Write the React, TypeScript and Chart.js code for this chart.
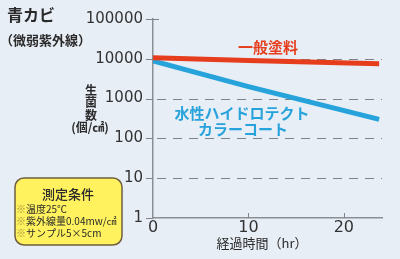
import React, { useEffect, useRef } from "react";
import { Chart, registerables } from "chart.js";

Chart.register(...registerables);

const hours = [0, 10, 23.7];
const generalPaint = [10600, 9000, 7500];
const hydrotect = [8900, 2000, 300];
const yTicks = [1, 10, 100, 1000, 10000, 100000];
const xTicks = [0, 10, 20];

const BG = "#e8eef6";
const RED = "#e63e1c";
const BLUE = "#27a3db";
const JP = '"Noto Sans CJK JP", "Noto Sans", sans-serif';

const textPlugin = {
  id: "texts",
  beforeDraw(chart: any) {
    const { ctx } = chart;
    ctx.save();
    ctx.fillStyle = BG;
    ctx.fillRect(0, 0, chart.width, chart.height);
    ctx.restore();
  },
  beforeDatasetsDraw(chart: any) {
    const { ctx } = chart;
    const x = chart.scales.x;
    const y = chart.scales.y;
    ctx.save();
    ctx.strokeStyle = "#7f8389";
    ctx.lineWidth = 1;
    // y grid lines (dashed) and tick marks
    yTicks.forEach((v) => {
      const py = Math.round(y.getPixelForValue(v)) + 0.5;
      ctx.setLineDash([]);
      ctx.beginPath();
      ctx.moveTo(x.left - 7, py);
      ctx.lineTo(x.left + (v === 100000 ? 6 : 0), py);
      ctx.stroke();
      if (v !== 1 && v !== 100000) {
        ctx.setLineDash([9, 7]);
        ctx.beginPath();
        ctx.moveTo(x.left + 4, py);
        ctx.lineTo(x.right, py);
        ctx.stroke();
      }
    });
    ctx.setLineDash([]);
    // x tick marks pointing up
    [10, 20].forEach((v) => {
      const px = Math.round(x.getPixelForValue(v)) + 0.5;
      ctx.beginPath();
      ctx.moveTo(px, y.bottom);
      ctx.lineTo(px, y.bottom - 5);
      ctx.stroke();
    });
    ctx.restore();
  },
  afterDraw(chart: any) {
    const { ctx } = chart;
    ctx.save();
    // title
    ctx.fillStyle = "#2a2a2a";
    ctx.textBaseline = "middle";
    ctx.textAlign = "left";
    ctx.font = `bold 16px ${JP}`;
    ctx.fillText("青カビ", 7, 15);
    ctx.font = `bold 13px ${JP}`;
    ctx.fillText("（微弱紫外線）", 0, 40);
    // y title
    ctx.textAlign = "center";
    ctx.font = `bold 12px ${JP}`;
    ["生", "菌", "数"].forEach((c, i) => ctx.fillText(c, 91, 90 + i * 12.5));
    ctx.fillText("(個/㎠)", 90, 127);
    // x title
    ctx.font = `13px ${JP}`;
    ctx.fillText("経過時間（hr）", 262, 243);
    // series labels
    ctx.font = `bold 15px ${JP}`;
    ctx.fillStyle = RED;
    ctx.fillText("一般塗料", 268, 47);
    ctx.fillStyle = BLUE;
    ctx.fillText("水性ハイドロテクト", 242, 113);
    ctx.fillText("カラーコート", 243, 129);
    // yellow box
    const bx = 15, by = 178, bw = 107, bh = 67, r = 9;
    ctx.beginPath();
    ctx.roundRect(bx, by, bw, bh, r);
    ctx.fillStyle = "#fff25e";
    ctx.fill();
    ctx.strokeStyle = "#6e5d3e";
    ctx.lineWidth = 1.5;
    ctx.stroke();
    ctx.fillStyle = "#2a2a2a";
    ctx.font = `500 13px ${JP}`;
    ctx.fillText("測定条件", 68, 194);
    ctx.textAlign = "left";
    ctx.font = `10px ${JP}`;
    const lines = ["温度25℃", "紫外線量0.04mw/㎠", "サンプル5×5cm"];
    lines.forEach((l, i) => {
      const ly = 209 + i * 12;
      ctx.fillStyle = "#9a8a40";
      ctx.fillText("※", 16, ly);
      ctx.fillStyle = "#2a2a2a";
      ctx.fillText(l, 26, ly);
    });
    ctx.restore();
  },
};

export default function App() {
  const ref = useRef<HTMLCanvasElement>(null);
  useEffect(() => {
    document.body.style.margin = "0";
    const chart = new Chart(ref.current!, {
      type: "line",
      data: {
        datasets: [
          {
            label: "一般塗料",
            data: hours.map((h, i) => ({ x: h, y: generalPaint[i] })),
            borderColor: RED,
            borderWidth: 5,
            pointRadius: 0,
            tension: 0,
          },
          {
            label: "水性ハイドロテクトカラーコート",
            data: hours.map((h, i) => ({ x: h, y: hydrotect[i] })),
            borderColor: BLUE,
            borderWidth: 5,
            pointRadius: 0,
            tension: 0,
          },
        ],
      },
      options: {
        animation: false,
        responsive: false,
        layout: { padding: { left: 0, top: 17, right: 18, bottom: 0 } },
        plugins: { legend: { display: false }, tooltip: { enabled: false } },
        scales: {
          x: {
            type: "linear",
            min: 0,
            max: 24,
            afterBuildTicks: (s: any) => {
              s.ticks = xTicks.map((v) => ({ value: v }));
            },
            afterFit: (s: any) => {
              s.height = 41;
            },
            grid: { display: false, drawTicks: false },
            border: { color: "#8a8f96", width: 1.5 },
            ticks: {
              color: "#333",
              font: { size: 16, family: "'DejaVu Sans'" },
              padding: 0,
              maxRotation: 0,
            },
          },
          y: {
            type: "logarithmic",
            min: 1,
            max: 100000,
            afterBuildTicks: (s: any) => {
              s.ticks = yTicks.map((v) => ({ value: v }));
            },
            afterFit: (s: any) => {
              s.width = 153;
            },
            grid: { display: false, drawTicks: false },
            border: { color: "#8a8f96", width: 1.5 },
            ticks: {
              color: "#333",
              font: { size: 15, family: "'DejaVu Sans'" },
              padding: 10,
              callback: (v: any) => String(v),
            },
          },
        },
      },
      plugins: [textPlugin],
    });
    return () => chart.destroy();
  }, []);
  return (
    <div style={{ width: 400, height: 259 }}>
      <canvas ref={ref} width={400} height={259} />
    </div>
  );
}
